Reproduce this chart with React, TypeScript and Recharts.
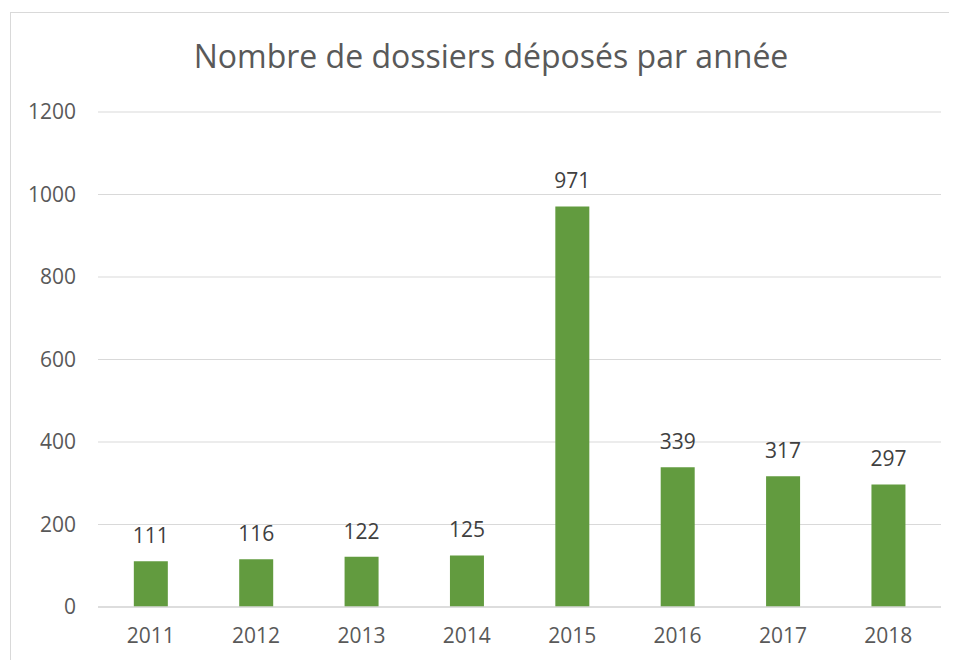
import React from "react";
import { BarChart, Bar, XAxis, YAxis, CartesianGrid, LabelList } from "recharts";

const years = ["2011", "2012", "2013", "2014", "2015", "2016", "2017", "2018"];
const dossiers = [111, 116, 122, 125, 971, 339, 317, 297];
const yTicks = [0, 200, 400, 600, 800, 1000, 1200];

const data = years.map((year, i) => ({ year, dossiers: dossiers[i] }));

const FONT = "'Open Sans', sans-serif";
const TEXT = "#595959";

export default function App() {
  return (
    <div style={{ width: 949, height: 652, overflow: "hidden", fontFamily: FONT }}>
      <div
        style={{
          position: "relative",
          marginLeft: 2,
          marginTop: 4,
          width: 970,
          height: 670,
          border: "1px solid #D9D9D9",
          background: "#fff",
          boxSizing: "border-box",
        }}
      >
        <div
          style={{
            position: "absolute",
            left: 0,
            top: 22,
            width: 960,
            textAlign: "center",
            fontSize: 32,
            color: TEXT,
            lineHeight: "42px",
          }}
        >
          Nombre de dossiers déposés par année
        </div>
        <BarChart
          width={960}
          height={660}
          data={data}
          margin={{ top: 99, right: 30, left: 0, bottom: 36 }}
          barCategoryGap="34%"
        >
          <CartesianGrid vertical={false} stroke="#D9D9D9" strokeWidth={1} />
          <XAxis
            dataKey="year"
            axisLine={{ stroke: "#D9D9D9", strokeWidth: 1.5 }}
            tickLine={false}
            tickSize={0}
            tickMargin={21}
            tick={{ fill: TEXT, fontSize: 21, fontFamily: FONT }}
          />
          <YAxis
            width={87}
            domain={[0, 1200]}
            ticks={yTicks}
            axisLine={false}
            tickLine={false}
            tickSize={0}
            tickMargin={22}
            tick={{ fill: TEXT, fontSize: 21, fontFamily: FONT }}
          />
          <Bar dataKey="dossiers" fill="#629B3F" isAnimationActive={false}>
            <LabelList
              dataKey="dossiers"
              position="top"
              offset={18}
              style={{ fill: "#404040", fontSize: 21, fontFamily: FONT }}
            />
          </Bar>
        </BarChart>
      </div>
    </div>
  );
}
